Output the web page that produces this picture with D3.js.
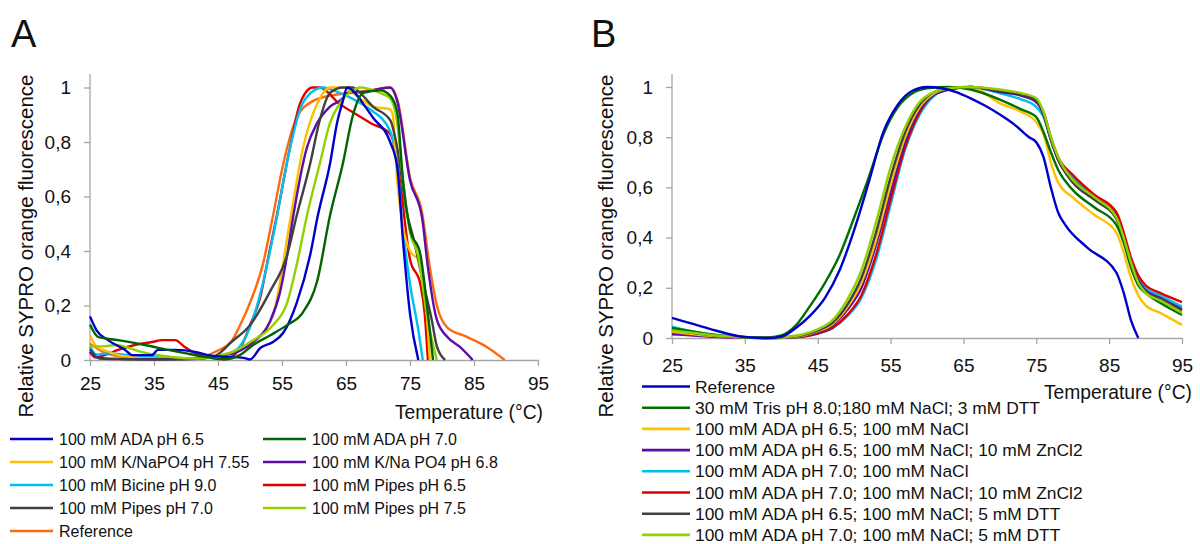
<!DOCTYPE html>
<html><head><meta charset="utf-8">
<script src="https://cdn.jsdelivr.net/npm/d3@7"></script>
<style>body{margin:0;background:#fff}svg{display:block}text{font-family:"Liberation Sans",Arial,sans-serif;fill:#111}</style>
</head><body><svg id="c" width="1200" height="544"></svg>
<script>
// ---------- Data (temperature °C, relative fluorescence) ----------
const xTicks = [25,35,45,55,65,75,85,95];
const yTicks = [0,0.2,0.4,0.6,0.8,1];
const yTickLabels = ["0","0,2","0,4","0,6","0,8","1"];

// Panel A
const aADA65 = [[25,.16],[26,.11],[27.8,.073],[30.5,.037],[31.6,.018],[34.7,.018],[35.6,.037],[38.3,.037],[41.4,.03],[43.4,.018],[46,.012],[49,.008],[50,.002],[51.6,.044],[53.6,.066],[55.2,.1],[57.3,.21],[59.4,.385],[60.6,.53],[62.5,.72],[63.6,.87],[64.5,.95],[65.2,1.0],[66,.99],[67.7,.94],[69.2,.89],[71.9,.80],[73,.71],[73.9,.44],[75,.17],[76.3,0]];
const aADA70 = [[25,.13],[26.25,.085],[29.4,.073],[33.6,.055],[37.2,.037],[39.8,.025],[43.4,.01],[46,.003],[48.4,.018],[50.5,.055],[53.1,.09],[55.8,.128],[58.3,.176],[60.5,.29],[62.5,.53],[64.5,.72],[66.1,.9],[67.7,.98],[70.3,.99],[71.9,.97],[73,.91],[73.9,.66],[75,.48],[76.6,.39],[77.8,.17],[78.6,0]];
const aKNa755 = [[25,.09],[26,.05],[28,.03],[30,.015],[35,.005],[40,.005],[44,.01],[46,.02],[48.4,.037],[51.1,.08],[53.6,.165],[56.25,.51],[58.3,.78],[60.5,.94],[62.5,1.0],[64.5,1.0],[67.2,.96],[69.2,.93],[71.9,.92],[72.3,.9],[73,.66],[73.9,.49],[75,.40],[76.6,.36],[77.6,.17],[78.1,0]];
const aKNa68 = [[25,.03],[26,.01],[28,.005],[35,.003],[42,.005],[45,.015],[48,.03],[50.5,.066],[53.1,.14],[54.7,.25],[55.8,.385],[56.7,.52],[58.9,.78],[60.5,.87],[62.5,.93],[64.5,.96],[65.2,.98],[68,.985],[71.9,1.0],[73,.95],[75,.66],[76.9,.52],[77.8,.34],[79.2,.147],[80.8,.085],[82.8,.048],[84.8,0]];
const aBicine90 = [[25,.05],[26,.02],[28,.025],[30,.02],[33,.015],[36,.01],[40,.005],[44,.01],[46,.02],[48,.04],[50,.12],[52,.28],[54,.5],[56,.75],[58,.93],[59.5,.98],[61.4,1.0],[64,.98],[66.7,.95],[68.75,.92],[71.9,.84],[73,.72],[73.9,.48],[75,.28],[76.3,.11],[77,0]];
const aPipes65 = [[25,.03],[25.8,.01],[27.5,.02],[29.4,.037],[32,.055],[34.7,.066],[36.3,.073],[38.3,.073],[39.8,.048],[41.4,.025],[43.4,.01],[46,.003],[48.5,.045],[50,.128],[51.6,.23],[52.8,.37],[54.2,.53],[56.25,.78],[57.8,.94],[59.8,1.0],[60.9,1.0],[64,.94],[66.7,.9],[68.8,.87],[71.9,.83],[72.3,.81],[73.4,.66],[75,.37],[76.6,.28],[77.3,.17],[77.8,0]];
const aPipes70 = [[25,.04],[26.5,.005],[30,.003],[35,.002],[40,.003],[44,.01],[45.5,.03],[46.9,.062],[50,.128],[53.1,.25],[55.8,.385],[57.3,.53],[59.4,.72],[60.9,.88],[62.5,.98],[64.5,1.0],[66,1.0],[67.2,.98],[69.2,.93],[71.9,.88],[73,.78],[74.5,.54],[75.5,.45],[77,.29],[78.4,.147],[79.2,.05],[80.5,0]];
const aPipes75 = [[25,.05],[27,.05],[29,.055],[31,.045],[33,.03],[35,.02],[38,.01],[42,.005],[45,.015],[47.3,.03],[50,.066],[53.6,.128],[55.8,.21],[57.3,.35],[58.9,.53],[60.9,.72],[62.5,.87],[64,.94],[66.1,.99],[67.2,1.0],[70.3,.98],[71.9,.96],[73,.87],[73.9,.66],[75,.47],[76.3,.38],[77.6,.17],[79.2,0]];
const aReference = [[25,.06],[27,.03],[29,.015],[31,.01],[35,.005],[40,.005],[43,.015],[45,.035],[47,.065],[48.5,.13],[50,.21],[52,.35],[53.6,.53],[55.2,.72],[57.3,.89],[59.8,.95],[62.5,.97],[65.6,.98],[68.8,.99],[71.9,1.0],[73.1,.95],[75,.67],[76.9,.54],[78.1,.34],[79.2,.2],[80.8,.12],[83.9,.085],[87,.048],[89.8,0]];

const namesA = ["100 mM ADA pH 6.5","100 mM ADA pH 7.0","100 mM K/NaPO4 pH 7.55","100 mM K/Na PO4 pH 6.8","100 mM Bicine pH 9.0","100 mM Pipes pH 6.5","100 mM Pipes pH 7.0","100 mM Pipes pH 7.5","Reference"];
const colorsA = ["#0000cc","#006400","#ffc000","#5b0fa8","#00c0f0","#e00000","#404040","#92d000","#ff6a10"];
const dataA = [aADA65,aADA70,aKNa755,aKNa68,aBicine90,aPipes65,aPipes70,aPipes75,aReference];

// Panel B
const bReference = [[25,.08],[28,.055],[31,.03],[34,.008],[36,.002],[38,0],[40,.005],[42,.04],[44,.09],[46,.16],[48,.27],[50,.43],[52,.62],[54,.82],[56,.93],[58,.985],[60,1.0],[62,.995],[64,.98],[66,.955],[68,.925],[70,.89],[72,.85],[74,.80],[75,.78],[76,.72],[77,.60],[78,.50],[79,.45],[82,.36],[86,.26],[87,.18],[88,.07],[89,0]];
const bTris = [[25,.04],[28,.025],[31,.012],[35,.003],[38,.002],[40,.01],[42,.05],[44,.13],[46,.22],[48,.33],[50,.48],[52,.64],[54,.81],[56,.92],[58,.975],[60,.995],[63,1.0],[66,.99],[70,.95],[73,.91],[75,.88],[76,.82],[77,.74],[78,.67],[80,.59],[83,.52],[86,.45],[87,.38],[88,.28],[89,.21],[90,.18],[92,.14],[95,.092]];
const bADA65NaCl = [[25,.025],[28,.015],[31,.008],[35,.002],[38,0],[41,.004],[43,.01],[45,.027],[47,.055],[49,.12],[51,.22],[53,.39],[55,.61],[57,.80],[59,.92],[61,.975],[63,.995],[66,1.0],[70,.935],[73,.9],[75,.86],[76,.81],[77,.70],[78,.62],[80,.56],[83,.49],[86,.42],[87,.34],[88,.24],[89,.17],[90,.13],[92,.10],[95,.052]];
const bADA65Zn = [[25,.015],[28,.01],[31,.005],[35,.002],[38,0],[41,.003],[43,.008],[45,.022],[47,.05],[49,.11],[51,.2],[53,.37],[55,.58],[57,.78],[59,.91],[61,.97],[63,.99],[66,1.0],[70,.98],[73,.965],[75,.94],[76,.89],[77,.79],[78,.71],[80,.63],[83,.56],[86,.48],[87,.40],[88,.30],[89,.23],[90,.19],[92,.16],[95,.115]];
const bADA70NaCl = [[25,.045],[28,.025],[31,.012],[35,.003],[38,0],[41,.002],[43,.006],[45,.018],[47,.038],[49,.085],[51,.16],[53,.31],[55,.53],[57,.75],[59,.89],[61,.965],[63,.99],[66,1.0],[70,.975],[73,.95],[75,.92],[76,.88],[77,.79],[78,.71],[80,.64],[83,.56],[86,.49],[87,.41],[88,.31],[89,.24],[90,.20],[92,.17],[95,.125]];
const bADA70Zn = [[25,.02],[28,.012],[31,.006],[35,.002],[38,0],[41,.002],[43,.006],[45,.018],[47,.04],[49,.09],[51,.17],[53,.33],[55,.55],[57,.76],[59,.90],[61,.97],[63,.99],[66,1.0],[70,.985],[73,.97],[75,.94],[76,.9],[77,.8],[78,.72],[80,.65],[83,.57],[86,.50],[87,.42],[88,.32],[89,.25],[90,.21],[92,.18],[95,.143]];
const bADA65DTT = [[25,.035],[28,.02],[31,.01],[35,.003],[38,0],[41,.004],[43,.012],[45,.03],[47,.06],[49,.13],[51,.24],[53,.42],[55,.64],[57,.82],[59,.93],[61,.98],[63,.995],[66,1.0],[70,.985],[73,.97],[75,.945],[76,.89],[77,.79],[78,.71],[80,.62],[83,.55],[86,.475],[87,.39],[88,.30],[89,.22],[90,.185],[92,.155],[95,.11]];
const bADA70DTT = [[25,.03],[28,.02],[31,.01],[35,.003],[38,0],[41,.005],[43,.015],[45,.035],[47,.07],[49,.15],[51,.27],[53,.46],[55,.68],[57,.84],[59,.94],[61,.98],[63,.995],[66,1.0],[70,.99],[73,.975],[75,.955],[76,.9],[77,.8],[78,.72],[80,.63],[83,.56],[86,.48],[87,.40],[88,.30],[89,.22],[90,.18],[92,.15],[95,.10]];

const namesB = ["Reference","30 mM Tris pH 8.0;180 mM NaCl; 3 mM DTT","100 mM ADA pH 6.5; 100 mM NaCl","100 mM ADA pH 6.5; 100 mM NaCl; 10 mM ZnCl2","100 mM ADA pH 7.0; 100 mM NaCl","100 mM ADA pH 7.0; 100 mM NaCl; 10 mM ZnCl2","100 mM ADA pH 6.5; 100 mM NaCl; 5 mM DTT","100 mM ADA pH 7.0; 100 mM NaCl; 5 mM DTT"];
const colorsB = ["#0000cc","#007000","#ffc000","#5b0fa8","#00c0f0","#e00000","#404040","#92d000"];
const dataB = [bReference,bTris,bADA65NaCl,bADA65Zn,bADA70NaCl,bADA70Zn,bADA65DTT,bADA70DTT];
// draw order (bottom to top)
const orderA = [8,5,4,2,3,6,7,0,1];
const orderB = [4,5,3,2,6,1,7,0];

// ---------- Drawing ----------
const svg = d3.select("#c");
const FONT = 19;

function panel(cfg){
  const x = d3.scaleLinear().domain([25,95]).range([cfg.x0,cfg.x1]);
  const y = d3.scaleLinear().domain([0,1]).range([cfg.y0,cfg.y1]);
  const g = svg.append("g");
  const ya = d3.axisLeft(y).tickValues(yTicks).tickFormat((d,i)=>yTickLabels[i]).tickSize(6).tickSizeOuter(0);
  const yg = g.append("g").attr("transform",`translate(${cfg.x0},0)`).call(ya);
  yg.select(".domain").attr("d",`M0,${cfg.yTop}V${cfg.y0}`);
  const xa = d3.axisBottom(x).tickValues(xTicks).tickSize(6).tickSizeOuter(0);
  const xg = g.append("g").attr("transform",`translate(0,${cfg.y0})`).call(xa);
  [yg,xg].forEach(a=>{
    a.selectAll(".domain").attr("stroke","#a6a6a6").attr("stroke-width",1.3);
    a.selectAll(".tick line").attr("stroke","#a6a6a6").attr("stroke-width",1.3);
    a.selectAll(".tick text").attr("font-size",FONT).attr("fill","#111").style("font-family",'"Liberation Sans",Arial,sans-serif');
  });
  yg.selectAll(".tick text").attr("x",-19);
  xg.selectAll(".tick text").attr("y",cfg.xLabDy);
  const line = d3.line().x(d=>x(d[0])).y(d=>y(d[1])).curve(d3.curveMonotoneX);
  cfg.order.forEach(i=>{
    g.append("path").attr("d",line(cfg.data[i])).attr("fill","none")
      .attr("stroke",cfg.colors[i]).attr("stroke-width",2.4).attr("stroke-linejoin","round");
  });
  g.append("text").attr("transform",`translate(${cfg.ytx},${cfg.yty}) rotate(-90)`)
    .attr("text-anchor","middle").attr("font-size",20.5).text("Relative SYPRO orange fluorescence");
  g.append("text").attr("x",cfg.xtx).attr("y",cfg.xty).attr("text-anchor","end")
    .attr("font-size",19.3).text("Temperature (°C)");
  g.append("text").attr("x",cfg.lx).attr("y",47).attr("font-size",38).text(cfg.letter);
}

panel({x0:90,x1:538,y0:360,y1:87.5,yTop:74,data:dataA,colors:colorsA,order:orderA,
  ytx:33,yty:246,xtx:543,xty:419,xLabDy:17,lx:11,letter:"A"});
panel({x0:672,x1:1182,y0:338,y1:87,yTop:74,data:dataB,colors:colorsB,order:orderB,
  ytx:613,yty:246,xtx:1192,xty:399,xLabDy:21,lx:591,letter:"B"});

// legends
const legA = svg.append("g");
namesA.forEach((n,i)=>{
  const col = i%2, row = Math.floor(i/2);
  const lx = col===0?10:263, ly = 439 + row*23;
  legA.append("line").attr("x1",lx).attr("x2",lx+43).attr("y1",ly).attr("y2",ly)
    .attr("stroke",colorsA[i]).attr("stroke-width",2.6);
  legA.append("text").attr("x",lx+49).attr("y",ly+6).attr("font-size",16).text(n);
});
const legB = svg.append("g");
namesB.forEach((n,i)=>{
  const ly = 386.5 + i*21.2;
  legB.append("line").attr("x1",642).attr("x2",690).attr("y1",ly).attr("y2",ly)
    .attr("stroke",colorsB[i]).attr("stroke-width",2.6);
  legB.append("text").attr("x",695).attr("y",ly+6).attr("font-size",17.4).text(n);
});
</script></body></html>
